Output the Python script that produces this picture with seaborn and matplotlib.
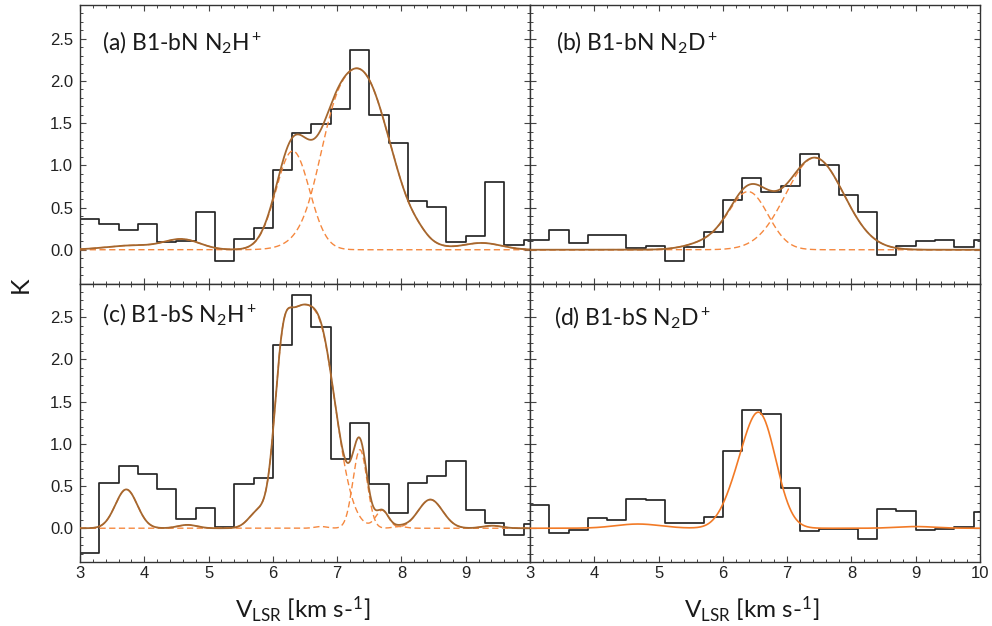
import numpy as np
import pandas as pd
import matplotlib
matplotlib.use("Agg")
import matplotlib.pyplot as plt
from matplotlib.ticker import MultipleLocator, FixedLocator, FixedFormatter
import seaborn as sns

# ---------------------------------------------------------------
# Observed spectra: brightness (K) per 0.3 km/s channel starting at 3.0 km/s
# ---------------------------------------------------------------
chan_start = 3.0
chan_width = 0.3

spec_bN_n2hp = [0.36, 0.30, 0.23, 0.31, 0.09, 0.10, 0.45, -0.13, 0.13, 0.26, 0.95, 1.38,
                1.49, 1.67, 2.37, 1.60, 1.27, 0.58, 0.51, 0.09, 0.16, 0.80, 0.06, 0.11]
spec_bN_n2dp = [0.12, 0.23, 0.08, 0.17, 0.18, 0.02, 0.05, -0.13, 0.03, 0.21, 0.59, 0.85,
                0.69, 0.76, 1.13, 1.01, 0.65, 0.45, -0.06, 0.04, 0.10, 0.11, 0.03, 0.11]
spec_bS_n2hp = [-0.29, 0.54, 0.74, 0.64, 0.47, 0.11, 0.24, 0.01, 0.53, 0.59, 2.17, 2.76,
                2.38, 0.82, 1.25, 0.52, 0.18, 0.54, 0.62, 0.80, 0.22, 0.06, -0.08, 0.05]
spec_bS_n2dp = [0.28, -0.06, -0.02, 0.12, 0.10, 0.35, 0.33, 0.06, 0.06, 0.13, 0.92, 1.40,
                1.35, 0.48, -0.03, -0.01, -0.01, -0.13, 0.23, 0.21, -0.02, -0.01, 0.01, 0.19]

# ---------------------------------------------------------------
# Fitted velocity components, each a set of Gaussians:
# centre (km/s), peak (K), dispersion (km/s)
# ---------------------------------------------------------------
# (a) B1-bN N2H+
a1_centre = [3.80, 4.59, 6.31]
a1_peak = [0.05, 0.12, 1.17]
a1_sigma = [0.40, 0.28, 0.26]
a2_centre = [6.90, 7.36, 8.28, 9.25]
a2_peak = [0.35, 2.10, 0.03, 0.08]
a2_sigma = [0.22, 0.46, 0.12, 0.30]

# (b) B1-bN N2D+
b1_centre = [5.85, 6.41]
b1_peak = [0.10, 0.66]
b1_sigma = [0.35, 0.30]
b2_centre = [7.43]
b2_peak = [1.09]
b2_sigma = [0.45]

# (c) B1-bS N2H+
c1_centre = [3.72, 4.67, 5.78, 6.13, 6.33, 6.70, 7.70, 8.45, 9.41]
c1_peak = [0.46, 0.04, 0.20, 1.30, 1.30, 2.38, 0.21, 0.34, 0.03]
c1_sigma = [0.17, 0.15, 0.15, 0.125, 0.175, 0.274, 0.10, 0.19, 0.15]
c2_centre = [6.75, 7.355, 7.97]
c2_peak = [0.02, 0.93, 0.02]
c2_sigma = [0.10, 0.11, 0.10]

# (d) B1-bS N2D+
d1_centre = [4.68, 6.20, 6.58, 9.00]
d1_peak = [0.05, 0.30, 1.30, 0.02]
d1_sigma = [0.35, 0.22, 0.25, 0.30]

panel_labels = [r"(a) B1-bN N$_2$H$^+$", r"(b) B1-bN N$_2$D$^+$",
                r"(c) B1-bS N$_2$H$^+$", r"(d) B1-bS N$_2$D$^+$"]
x_ticks = [3, 4, 5, 6, 7, 8, 9, 10]
y_ticks = [0.0, 0.5, 1.0, 1.5, 2.0, 2.5]
y_tick_labels = ["0.0", "0.5", "1.0", "1.5", "2.0", "2.5"]

# ---------------------------------------------------------------
sns.set_theme(style="ticks")
plt.rcParams.update({
    "font.family": ["Liberation Sans", "DejaVu Sans"],
    "mathtext.fontset": "custom",
    "mathtext.rm": "Lato",
    "mathtext.it": "Lato:italic",
    "mathtext.bf": "Lato:bold",
    "axes.edgecolor": "#333333",
    "axes.linewidth": 1.0,
})

HIST = "#262626"
BROWN = "#a5672f"
ORANGE = "#f5883f"
ORANGE_D = "#f27a26"

v_fine = np.linspace(3.0, 10.0, 1401)


def gauss_sum(centres, peaks, sigmas):
    c = np.asarray(centres)[:, None]
    p = np.asarray(peaks)[:, None]
    s = np.asarray(sigmas)[:, None]
    return (p * np.exp(-0.5 * ((v_fine[None, :] - c) / s) ** 2)).sum(axis=0)


def spectrum_frame(values):
    n = len(values)
    edges = chan_start + chan_width * np.arange(n + 1)
    vals = list(values) + [values[-1]]
    return pd.DataFrame({"v": edges, "T": vals})


fig, axes = plt.subplots(2, 2, figsize=(9.92, 6.26), dpi=100)
fig.subplots_adjust(left=80 / 992, right=980 / 992, top=1 - 5 / 626,
                    bottom=1 - 562 / 626, wspace=0, hspace=0)

panels = [
    (spec_bN_n2hp, [(a1_centre, a1_peak, a1_sigma), (a2_centre, a2_peak, a2_sigma)]),
    (spec_bN_n2dp, [(b1_centre, b1_peak, b1_sigma), (b2_centre, b2_peak, b2_sigma)]),
    (spec_bS_n2hp, [(c1_centre, c1_peak, c1_sigma), (c2_centre, c2_peak, c2_sigma)]),
    (spec_bS_n2dp, [(d1_centre, d1_peak, d1_sigma)]),
]
label_pos = [(0.048, 0.838), (0.057, 0.838), (0.048, 0.861), (0.054, 0.849)]

for idx, (ax, (spec, comps)) in enumerate(zip(axes.flat, panels)):
    df = spectrum_frame(spec)
    sns.lineplot(data=df, x="v", y="T", ax=ax, drawstyle="steps-post",
                 estimator=None, color=HIST, lw=1.25, zorder=2)

    curves = [gauss_sum(*c) for c in comps]
    if len(curves) > 1:
        for cv in curves:
            sns.lineplot(x=v_fine, y=cv, ax=ax, color=ORANGE, lw=1.0,
                         linestyle=(0, (4.5, 2.5)), estimator=None, zorder=3)
        sns.lineplot(x=v_fine, y=np.sum(curves, axis=0), ax=ax, color=BROWN,
                     lw=1.3, estimator=None, zorder=4)
    else:
        sns.lineplot(x=v_fine, y=curves[0], ax=ax, color=ORANGE_D, lw=1.2,
                     estimator=None, zorder=4)

    ax.set_xlim(3, 10)
    ax.set_ylim(-0.4, 2.9)
    ax.set_xlabel("")
    ax.set_ylabel("")
    ax.xaxis.set_major_locator(FixedLocator(x_ticks))
    ax.xaxis.set_minor_locator(MultipleLocator(0.2))
    ax.yaxis.set_major_locator(FixedLocator(y_ticks))
    ax.yaxis.set_minor_locator(MultipleLocator(0.1))
    ax.tick_params(which="both", direction="in", top=True, right=True,
                   color="#444444", labelsize=12, labelcolor="#222222")
    ax.tick_params(which="major", length=4.5, width=0.8)
    ax.tick_params(which="minor", length=2.5, width=0.7)
    ax.tick_params(axis="y", pad=5)
    ax.tick_params(axis="x", pad=3)

    row, col = divmod(idx, 2)
    if col == 0:
        ax.yaxis.set_major_formatter(FixedFormatter(y_tick_labels))
    else:
        ax.tick_params(labelleft=False)
    if row == 0:
        ax.tick_params(labelbottom=False)
    else:
        labels = [str(t) for t in x_ticks]
        if col == 0:
            labels[-1] = ""
        ax.xaxis.set_major_formatter(FixedFormatter(labels))

    lx, ly = label_pos[idx]
    ax.text(lx, ly, panel_labels[idx], transform=ax.transAxes, fontsize=16.5,
            family="Lato", color="#1a1a1a", va="baseline", ha="left")

xlabel = r"V$_{\mathrm{LSR}}$ [km s-$^{1}$]"
fig.text(303 / 992, 1 - 618 / 626, xlabel, fontsize=17.5, family="Lato",
         color="#1a1a1a", ha="center", va="baseline")
fig.text(752 / 992, 1 - 618 / 626, xlabel, fontsize=17.5, family="Lato",
         color="#1a1a1a", ha="center", va="baseline")
fig.text(20 / 992, 1 - 285 / 626, "K", fontsize=18, family="Lato",
         color="#1a1a1a", rotation=90, ha="center", va="center")

fig.savefig("out.png", dpi=100)
